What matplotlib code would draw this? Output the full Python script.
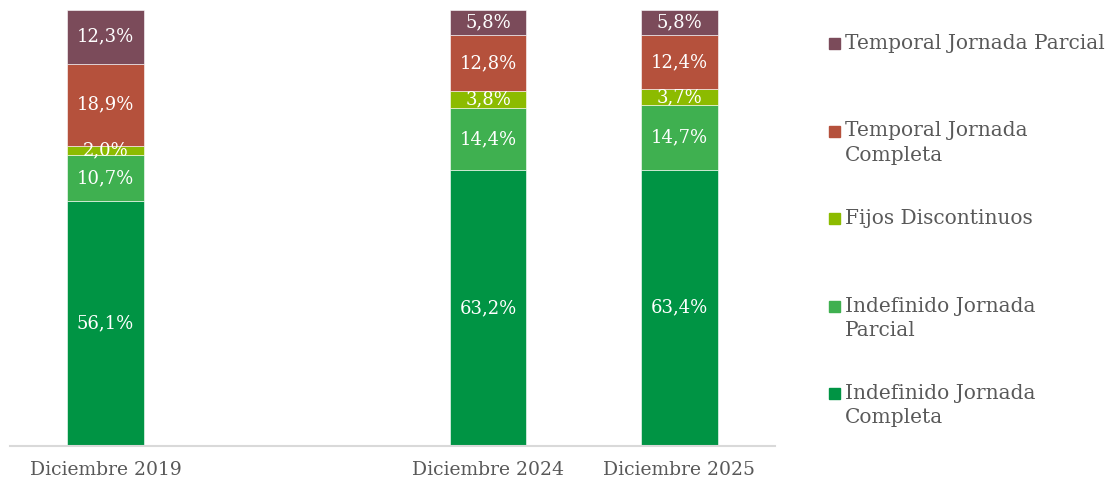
import matplotlib.pyplot as plt
from matplotlib.patches import Rectangle
import numpy as np

plt.rcParams['font.family'] = ['DejaVu Serif']

# data
positions = [0, 2, 3]
labels = ["Diciembre 2019", "Diciembre 2024", "Diciembre 2025"]

indef_completa = [56.1, 63.2, 63.4]
indef_parcial = [10.7, 14.4, 14.7]
fijos_disc = [2.0, 3.8, 3.7]
temp_completa = [18.9, 12.8, 12.4]
temp_parcial = [12.3, 5.8, 5.8]

series = [
    ("Indefinido Jornada\nCompleta", indef_completa, "#009444"),
    ("Indefinido Jornada\nParcial", indef_parcial, "#3fb050"),
    ("Fijos Discontinuos", fijos_disc, "#8cbb00"),
    ("Temporal Jornada\nCompleta", temp_completa, "#b5513c"),
    ("Temporal Jornada Parcial", temp_parcial, "#7b4b5a"),
]

fig = plt.figure(figsize=(11.11, 4.83), dpi=100)
ax = fig.add_axes([10 / 1111, 37 / 483, 765 / 1111, 436 / 483])

bottom = np.zeros(len(positions))
for name, vals, color in series:
    vals = np.array(vals)
    ax.bar(positions, vals, width=0.4, bottom=bottom, color=color,
           edgecolor="#ffffff", linewidth=0.4)
    for x, b, v in zip(positions, bottom, vals):
        ax.text(x, b + v / 2, f"{v:.1f}%".replace(".", ","), ha="center",
                va="center", color="white", fontsize=13)
    bottom += vals

ax.set_xlim(-0.5, 3.5)
ax.set_ylim(0, 100)
ax.set_xticks(positions)
ax.set_xticklabels(labels, fontsize=13.5, color="#595959")
ax.tick_params(axis="x", length=0, pad=11)
ax.set_yticks([])
for s in ["top", "right", "left"]:
    ax.spines[s].set_visible(False)
ax.spines["bottom"].set_color("#d9d9d9")
ax.spines["bottom"].set_linewidth(1.5)

# legend, top entry first
for i, (name, vals, color) in enumerate(series[::-1]):
    y = 1 - (43 + i * 87.5) / 483
    fig.patches.append(Rectangle((829 / 1111, y - 6 / 483), 11 / 1111, 11 / 483,
                                 transform=fig.transFigure, color=color))
    fig.text(845 / 1111, y + 9 / 483, name, ha="left", va="top",
             fontsize=14.5, color="#595959", linespacing=1.35)

fig.savefig("out.png", dpi=100)
